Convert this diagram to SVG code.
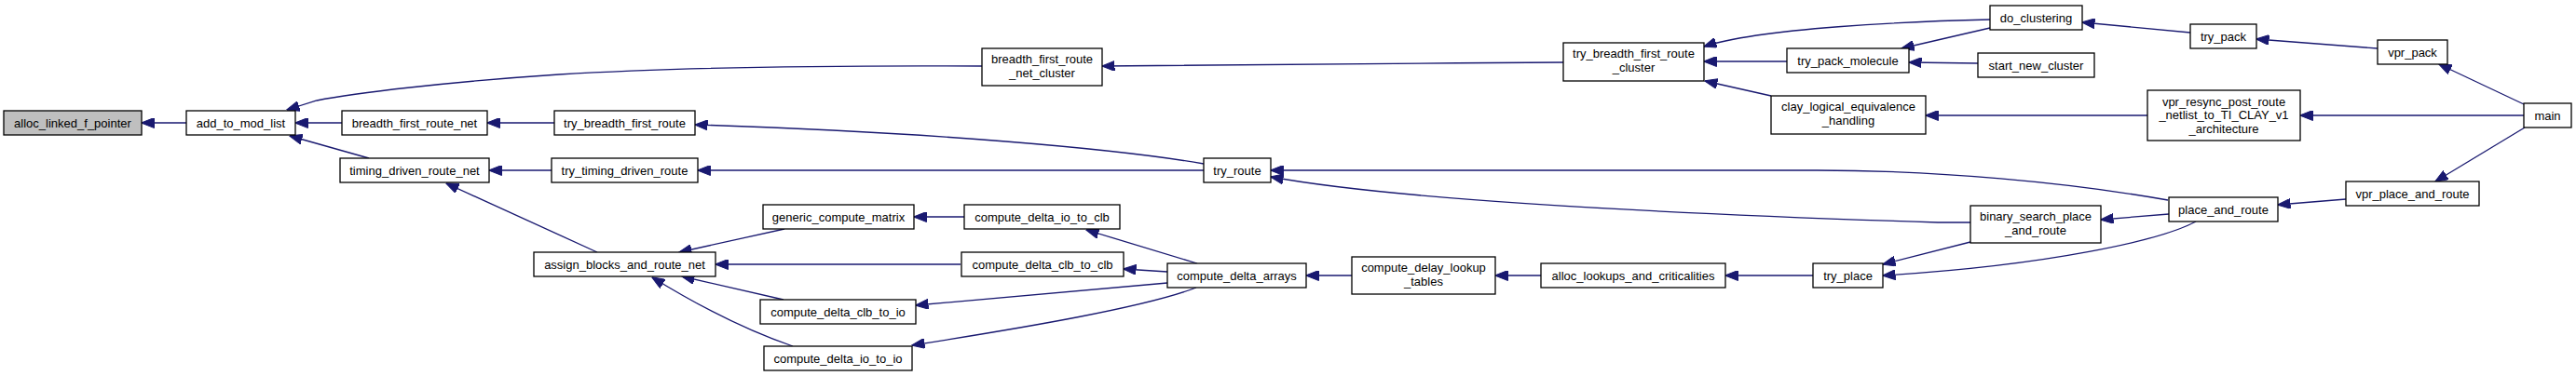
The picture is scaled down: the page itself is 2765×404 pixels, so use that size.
<svg xmlns="http://www.w3.org/2000/svg" width="2765" height="404" viewBox="0 0 2765 404">
<style>
.n rect{fill:#ffffff;stroke:#000000;stroke-width:1.3}
.n.root rect{fill:#bfbfbf}
.n text{font-family:"Liberation Sans",Arial,Helvetica,sans-serif;font-size:13px;fill:#000000;text-anchor:middle}
.e path{fill:none;stroke:#191970;stroke-width:1.3;marker-end:url(#ah)}
</style>
<defs>
<marker id="ah" viewBox="0 0 14 11" refX="13.5" refY="5.5" markerWidth="14" markerHeight="11" markerUnits="userSpaceOnUse" orient="auto">
<path d="M0,0 L14,5.5 L0,11 z" fill="#191970" stroke="#191970" stroke-width="1"/>
</marker>
</defs>
<rect width="2765" height="404" fill="#ffffff"/>
<g id="edges" class="e">
<path d="M200,132 L152,132"/>
<path d="M1054,71 C850,70 700,74 600,80 C480,88 380,100 340,108 L308,118"/>
<path d="M367,132 L317,132"/>
<path d="M396,170 L311,146"/>
<path d="M595,132 L523,132"/>
<path d="M592,183 L525,183"/>
<path d="M641,271 L479,197"/>
<path d="M1678,67 C1500,68 1300,70 1183,71"/>
<path d="M1292,176 C1200,160 1000,142 746,134"/>
<path d="M1292,183 L749,183"/>
<path d="M842,246 L729,271"/>
<path d="M1031,284 L768,284"/>
<path d="M841,322 L732,297"/>
<path d="M851,372 C810,358 760,335 700,298"/>
<path d="M1035,233 L981,233"/>
<path d="M1285,283 L1166,247"/>
<path d="M1253,292 L1206,289"/>
<path d="M1253,304 L983,328"/>
<path d="M1284,309 C1230,330 1100,352 979,371"/>
<path d="M1451,296 L1402,296"/>
<path d="M1654,296 L1605,296"/>
<path d="M1946,296 L1852,296"/>
<path d="M2136,21 C2050,23 1890,30 1829,50"/>
<path d="M1918,66 L1829,66"/>
<path d="M1901,103 L1830,87"/>
<path d="M2136,30 L2041,52"/>
<path d="M2123,68 L2049,67"/>
<path d="M2305,124 L2067,124"/>
<path d="M2351,35 L2235,24"/>
<path d="M2552,52 L2422,42"/>
<path d="M2709,112 L2618,69"/>
<path d="M2709,124 L2469,124"/>
<path d="M2710,137 L2614,195"/>
<path d="M2518,214 L2445,220"/>
<path d="M2327,215 C2220,196 2080,183 1950,183 L1364,183"/>
<path d="M2115,239 L2080,239 C1800,230 1500,215 1364,190"/>
<path d="M2328,230 L2255,236"/>
<path d="M2115,260 L2021,284"/>
<path d="M2357,238 C2320,258 2200,285 2021,296"/>
</g>
<g id="alloc_linked_f_pointer" class="n root"><rect x="4" y="119" width="148" height="26"/><text x="78" y="136.5">alloc_linked_f_pointer</text></g>
<g id="add_to_mod_list" class="n"><rect x="200" y="119" width="117" height="26"/><text x="258.5" y="136.5">add_to_mod_list</text></g>
<g id="breadth_first_route_net" class="n"><rect x="367" y="119" width="156" height="26"/><text x="445" y="136.5">breadth_first_route_net</text></g>
<g id="timing_driven_route_net" class="n"><rect x="365" y="170" width="160" height="26"/><text x="445" y="187.5">timing_driven_route_net</text></g>
<g id="try_breadth_first_route" class="n"><rect x="595" y="119" width="151" height="26"/><text x="670.5" y="136.5">try_breadth_first_route</text></g>
<g id="try_timing_driven_route" class="n"><rect x="592" y="170" width="157" height="26"/><text x="670.5" y="187.5">try_timing_driven_route</text></g>
<g id="assign_blocks_and_route_net" class="n"><rect x="573" y="271" width="195" height="26"/><text x="670.5" y="288.5">assign_blocks_and_route_net</text></g>
<g id="breadth_first_route_net_cluster" class="n"><rect x="1054" y="52" width="129" height="40"/><text x="1118.5" y="67.5">breadth_first_route</text><text x="1118.5" y="82.5">_net_cluster</text></g>
<g id="try_route" class="n"><rect x="1292" y="170" width="72" height="26"/><text x="1328" y="187.5">try_route</text></g>
<g id="generic_compute_matrix" class="n"><rect x="819" y="220" width="162" height="26"/><text x="900" y="237.5">generic_compute_matrix</text></g>
<g id="compute_delta_io_to_clb" class="n"><rect x="1035" y="220" width="167" height="26"/><text x="1118.5" y="237.5">compute_delta_io_to_clb</text></g>
<g id="compute_delta_clb_to_clb" class="n"><rect x="1032" y="271" width="174" height="26"/><text x="1119" y="288.5">compute_delta_clb_to_clb</text></g>
<g id="compute_delta_clb_to_io" class="n"><rect x="816" y="322" width="167" height="26"/><text x="899.5" y="339.5">compute_delta_clb_to_io</text></g>
<g id="compute_delta_io_to_io" class="n"><rect x="820" y="372" width="159" height="26"/><text x="899.5" y="389.5">compute_delta_io_to_io</text></g>
<g id="compute_delta_arrays" class="n"><rect x="1253" y="283" width="149" height="26"/><text x="1327.5" y="300.5">compute_delta_arrays</text></g>
<g id="compute_delay_lookup_tables" class="n"><rect x="1451" y="276" width="154" height="40"/><text x="1528" y="291.5">compute_delay_lookup</text><text x="1528" y="306.5">_tables</text></g>
<g id="alloc_lookups_and_criticalities" class="n"><rect x="1654" y="283" width="198" height="26"/><text x="1753" y="300.5">alloc_lookups_and_criticalities</text></g>
<g id="try_place" class="n"><rect x="1946" y="283" width="75" height="26"/><text x="1983.5" y="300.5">try_place</text></g>
<g id="try_breadth_first_route_cluster" class="n"><rect x="1678" y="46" width="151" height="41"/><text x="1753.5" y="62">try_breadth_first_route</text><text x="1753.5" y="77">_cluster</text></g>
<g id="try_pack_molecule" class="n"><rect x="1918" y="52" width="131" height="26"/><text x="1983.5" y="69.5">try_pack_molecule</text></g>
<g id="clay_logical_equivalence_handling" class="n"><rect x="1901" y="103" width="166" height="41"/><text x="1984" y="119">clay_logical_equivalence</text><text x="1984" y="134">_handling</text></g>
<g id="do_clustering" class="n"><rect x="2136" y="6" width="99" height="26"/><text x="2185.5" y="23.5">do_clustering</text></g>
<g id="start_new_cluster" class="n"><rect x="2123" y="57" width="125" height="26"/><text x="2185.5" y="74.5">start_new_cluster</text></g>
<g id="binary_search_place_and_route" class="n"><rect x="2115" y="221" width="140" height="40"/><text x="2185" y="236.5">binary_search_place</text><text x="2185" y="251.5">_and_route</text></g>
<g id="try_pack" class="n"><rect x="2351" y="26" width="71" height="26"/><text x="2386.5" y="43.5">try_pack</text></g>
<g id="vpr_resync_post_route_netlist_to_TI_CLAY_v1_architecture" class="n"><rect x="2305" y="97" width="164" height="54"/><text x="2387" y="113.5">vpr_resync_post_route</text><text x="2387" y="128">_netlist_to_TI_CLAY_v1</text><text x="2387" y="142.5">_architecture</text></g>
<g id="place_and_route" class="n"><rect x="2328" y="212" width="117" height="26"/><text x="2386.5" y="229.5">place_and_route</text></g>
<g id="vpr_pack" class="n"><rect x="2552" y="43" width="75" height="26"/><text x="2589.5" y="60.5">vpr_pack</text></g>
<g id="vpr_place_and_route" class="n"><rect x="2518" y="195" width="143" height="26"/><text x="2589.5" y="212.5">vpr_place_and_route</text></g>
<g id="main" class="n"><rect x="2709" y="111" width="51" height="26"/><text x="2734.5" y="128.5">main</text></g>
</svg>
